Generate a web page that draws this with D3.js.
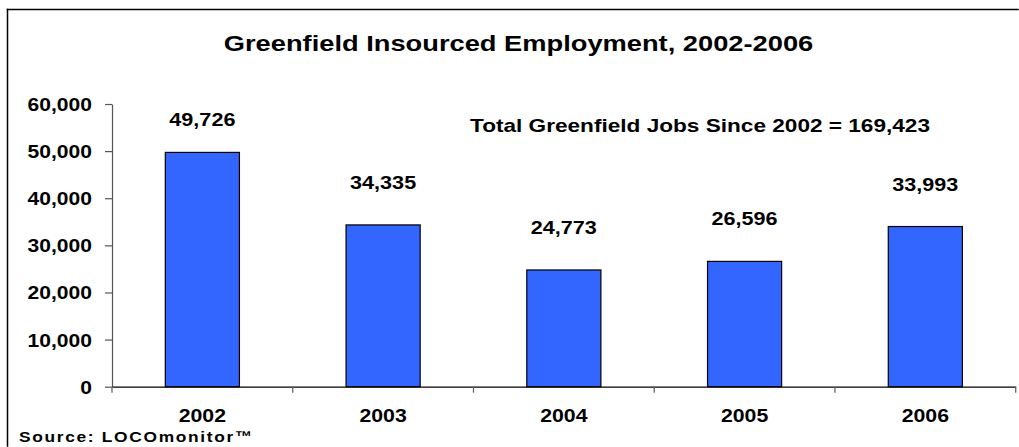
<!DOCTYPE html>
<html>
<head>
<meta charset="utf-8">
<script src="https://cdn.jsdelivr.net/npm/d3@7"></script>
<style>
  html, body { margin: 0; padding: 0; background: #fff; overflow: hidden; width: 1019px; height: 447px; }
  svg { display: block; overflow: hidden; }
  text { font-family: Arial, "Liberation Sans", sans-serif; font-weight: bold; fill: #000; }
</style>
</head>
<body>
<svg id="chart" width="1019" height="447" viewBox="0 0 1019 447"></svg>
<script>
const categories = ["2002", "2003", "2004", "2005", "2006"];
const values = [49726, 34335, 24773, 26596, 33993];
const yTicks = [0, 10000, 20000, 30000, 40000, 50000, 60000];
const titleText = "Greenfield Insourced Employment, 2002-2006";
const totalLabel = "Total Greenfield Jobs Since 2002 = ";
const sourceText = "Source: LOCOmonitor\u2122";

(function () {
const svg = d3.select("#chart");
const fmt = d3.format(",");

// frame: left and top edges (the rest lies outside the picture)
svg.append("rect")
  .attr("x", 6.75).attr("y", 8.75).attr("width", 1.5).attr("height", 438)
  .attr("fill", "#000");
svg.append("rect")
  .attr("x", 6.75).attr("y", 8.75).attr("width", 1012).attr("height", 1.5)
  .attr("fill", "#000");

const plotLeft = 112, plotRight = 1015.7, plotTop = 104, plotBottom = 386.7;

const x = d3.scaleBand().domain(categories).range([plotLeft, plotRight]).padding(0);
const y = d3.scaleLinear().domain([0, 60000]).range([plotBottom, plotTop]);

// title
svg.append("text")
  .attr("transform", "translate(518.5,50.7) scale(1.24,1)")
  .attr("text-anchor", "middle")
  .style("font-size", "22px")
  .text(titleText);

// y axis
const yAxis = svg.append("g")
  .attr("transform", `translate(${plotLeft},0)`)
  .call(d3.axisLeft(y).tickValues(yTicks).tickFormat(fmt).tickSize(7).tickSizeOuter(0));
yAxis.select(".domain").attr("stroke", "#555").attr("stroke-width", 1.2);
yAxis.selectAll(".tick line").attr("stroke", "#555").attr("stroke-width", 1.2);
yAxis.selectAll(".tick text")
  .attr("x", null).attr("dy", null)
  .attr("transform", "translate(-20,6.5) scale(1.17,1)")
  .attr("text-anchor", "end")
  .style("font-size", "18px")
  .style("font-family", "Arial, 'Liberation Sans', sans-serif")
  .style("font-weight", "bold")
  .attr("fill", "#000");

// bars
const barW = x.bandwidth() * 0.41;
svg.append("g").selectAll("rect")
  .data(values)
  .join("rect")
  .attr("x", (d, i) => x(categories[i]) + x.bandwidth() / 2 - barW / 2)
  .attr("y", d => y(d))
  .attr("width", barW)
  .attr("height", d => y(0) - y(d))
  .attr("fill", "#3366FF")
  .attr("stroke", "#000")
  .attr("stroke-width", 1.2);

// x axis
const xAxis = svg.append("g")
  .attr("transform", `translate(0,${plotBottom})`)
  .call(d3.axisBottom(x).tickSize(0).tickSizeOuter(0));
xAxis.select(".domain").attr("stroke", "#000").attr("stroke-width", 1.3);
xAxis.selectAll(".tick text")
  .attr("y", null).attr("dy", null)
  .attr("transform", "translate(0,35.6) scale(1.12,1)")
  .style("font-size", "19px")
  .style("font-family", "Arial, 'Liberation Sans', sans-serif")
  .style("font-weight", "bold")
  .attr("fill", "#000");
// boundary ticks
const bounds = categories.map(c => x(c)).concat([x(categories[categories.length - 1]) + x.bandwidth()]);
xAxis.selectAll("line.bound")
  .data(bounds)
  .join("line")
  .attr("class", "bound")
  .attr("x1", d => d).attr("x2", d => d)
  .attr("y1", 0).attr("y2", 6)
  .attr("stroke", "#666").attr("stroke-width", 1.3);

// value labels
svg.append("g").selectAll("text")
  .data(values)
  .join("text")
  .attr("transform", (d, i) => {
    const cx = x(categories[i]) + x.bandwidth() / 2;
    const by = Math.max(y(d) - 36, y(60000) + 22);
    return `translate(${cx},${by}) scale(1.2,1)`;
  })
  .attr("text-anchor", "middle")
  .style("font-size", "18px")
  .text(d => fmt(d));

// total label
svg.append("text")
  .attr("transform", "translate(470,131.7) scale(1.19,1)")
  .style("font-size", "19px")
  .text(totalLabel + fmt(d3.sum(values)));

// source
svg.append("text")
  .attr("transform", "translate(19,441.7) scale(1.12,1)")
  .style("font-size", "15.5px")
  .style("letter-spacing", "1.5px")
  .text(sourceText);
})();
</script>
</body>
</html>
